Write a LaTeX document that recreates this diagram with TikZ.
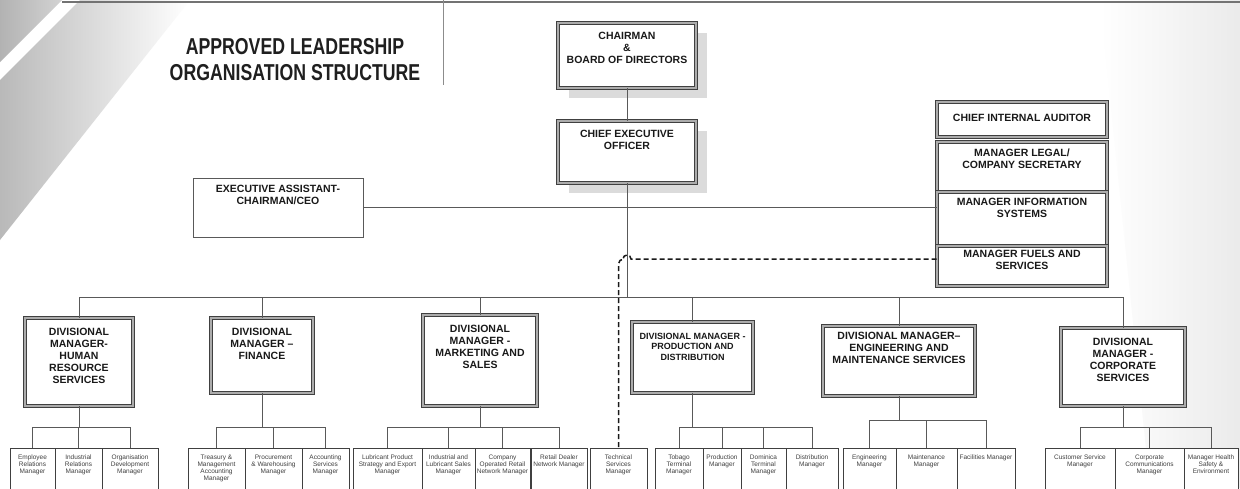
\documentclass[tikz,border=0pt]{standalone}
\usepackage{fontspec}
\setmainfont{Liberation Sans}
\newfontfamily\headfont[FakeStretch=0.77]{Liberation Sans}
\tikzset{
  link/.style={draw=black!65, line width=1pt},
  dashlink/.style={draw=black!90, line width=1.5pt, dash pattern=on 5pt off 3pt},
  bigbox/.style={draw=black!75, double=gray!65, double distance=1.6pt, line width=0.9pt, fill=white, inner sep=0pt},
  plainbox/.style={draw=black!65, line width=0.9pt, fill=white, inner sep=0pt},
  subbox/.style={draw=black!75, line width=1pt, fill=white, inner sep=0pt, minimum height=60pt, anchor=north},
  boxtext/.style={anchor=north, align=center, inner sep=0pt, text=black!90, font=\bfseries\fontsize{10.5}{12}\selectfont},
  smalltext/.style={boxtext, font=\bfseries\fontsize{9}{10.5}\selectfont},
  subtext/.style={anchor=north, align=center, inner sep=0pt, text=black!75, font=\fontsize{6.5}{7}\selectfont, yshift=-7pt},
}
\begin{document}
\begin{tikzpicture}[x=1pt, y=-1pt]
  \pgfdeclarelayer{bg}    % shadows
  \pgfdeclarelayer{bbg}   % page decoration
  \pgfsetlayers{bbg,bg,main}
  \def\busY{297}
  \def\subTop{448}
  \useasboundingbox (0,0) rectangle (1240,488);
  \clip (0,0) rectangle (1240,488);

  % page decoration
  \begin{pgfonlayer}{bbg}
    \fill[white] (0,0) rectangle (1240,488);
    \shade[left color=gray!60, right color=gray!35] (0,0) -- (62,0) -- (0,62) -- cycle;
    \shade[left color=gray!55, right color=white] (80,0) -- (190,0) -- (0,240) -- (0,80) -- cycle;
    \shade[left color=white, right color=gray!16] (1100,0) -- (1240,0) -- (1240,488) -- (1150,488) -- cycle;
    \draw[black!55, line width=1.5pt] (62,2) -- (1240,2);
    \draw[black!45, line width=1pt] (443,0) -- (443,85);
  \end{pgfonlayer}

  \node[anchor=north, align=center, inner sep=0pt, text=black!88,
        font=\headfont\bfseries\fontsize{23}{26}\selectfont] (title) at (295,38)
        {APPROVED LEADERSHIP\\ORGANISATION STRUCTURE};

  % top of the tree
  \node[bigbox, minimum width=138, minimum height=65,
        label={[boxtext,yshift=-9pt]north:{CHAIRMAN\\\&\\BOARD OF DIRECTORS}}] (chair) at (627,55.5) {};
  \node[bigbox, minimum width=138, minimum height=62,
        label={[boxtext,yshift=-9pt]north:{CHIEF EXECUTIVE\\OFFICER}}] (ceo) at (627,152) {};
  \node[plainbox, minimum width=170, minimum height=59,
        label={[boxtext,yshift=-7pt]north:{EXECUTIVE ASSISTANT-\\CHAIRMAN/CEO}}] (exec) at (278,207.5) {};

  % staff column
  \node[bigbox, minimum width=170, minimum height=35,
        label={[boxtext,yshift=-12pt]north:{CHIEF INTERNAL AUDITOR}}] (audit) at (1022,119.5) {};
  \node[bigbox, minimum width=170, minimum height=50,
        label={[boxtext,yshift=-7pt]north:{MANAGER LEGAL/\\COMPANY SECRETARY}}] (legal) at (1022,167) {};
  \node[bigbox, minimum width=170, minimum height=54,
        label={[boxtext,yshift=-6pt]north:{MANAGER INFORMATION\\SYSTEMS}}] (mis) at (1022,219) {};
  \node[bigbox, minimum width=170, minimum height=40,
        label={[boxtext,yshift=-4pt]north:{MANAGER FUELS AND\\SERVICES}}] (fuels) at (1022,266) {};

  % divisions
  \node[bigbox, minimum width=108, minimum height=88,
        label={[boxtext,yshift=-10pt]north:{DIVISIONAL\\MANAGER-\\HUMAN\\RESOURCE\\SERVICES}}] (hr) at (79,362) {};
  \node[bigbox, minimum width=102, minimum height=75,
        label={[boxtext,yshift=-10pt]north:{DIVISIONAL\\MANAGER –\\FINANCE}}] (fin) at (262,355.5) {};
  \node[bigbox, minimum width=114, minimum height=91,
        label={[boxtext,yshift=-10pt]north:{DIVISIONAL\\MANAGER -\\MARKETING AND\\SALES}}] (mkt) at (480,360.5) {};
  \node[bigbox, minimum width=121, minimum height=71,
        label={[smalltext,yshift=-11pt]north:{DIVISIONAL MANAGER -\\PRODUCTION AND\\DISTRIBUTION}}] (prd) at (692.5,357.5) {};
  \node[bigbox, minimum width=152, minimum height=70,
        label={[boxtext,yshift=-6pt]north:{DIVISIONAL MANAGER–\\ENGINEERING AND\\MAINTENANCE SERVICES}}] (eng) at (899,361) {};
  \node[bigbox, minimum width=124, minimum height=78,
        label={[boxtext,yshift=-10pt]north:{DIVISIONAL\\MANAGER -\\CORPORATE\\SERVICES}}] (cor) at (1123,367) {};

  % managers
  \foreach \n/\x/\w/\t in {
      hre/32.5/45/{Employee\\Relations\\Manager},
      hri/78.5/47/{Industrial\\Relations\\Manager},
      hro/130/56/{Organisation\\Development\\Manager},
      fint/216.5/57/{Treasury \&\\Management\\Accounting\\Manager},
      finp/273.5/57/{Procurement\\\& Warehousing\\Manager},
      fina/325.5/47/{Accounting\\Services\\Manager},
      mkl/387.5/69/{Lubricant Product\\Strategy and Export\\Manager},
      mki/448.5/53/{Industrial and\\Lubricant Sales\\Manager},
      mkc/502.5/55/{Company\\Operated Retail\\Network Manager},
      mkr/559/56/{Retail Dealer\\Network Manager},
      tech/618.5/57/{Technical\\Services\\Manager},
      pdt/679/48/{Tobago\\Terminal\\Manager},
      pdp/722/38/{Production\\Manager},
      pdd/763.5/45/{Dominica\\Terminal\\Manager},
      pdi/812/52/{Distribution\\Manager},
      ene/869.5/53/{Engineering\\Manager},
      enm/926.5/61/{Maintenance\\Manager},
      enf/986/58/{Facilities Manager},
      coc/1080/70/{Customer Service\\Manager},
      coo/1149.5/69/{Corporate\\Communications\\Manager},
      com/1211/54/{Manager Health\\Safety \&\\Environment}}
    \node[subbox, minimum width=\w, label={[subtext]north:{\t}}] (\n) at (\x,\subTop) {};

  % shadows
  \begin{pgfonlayer}{bg}
    \foreach \n in {chair,ceo}
      \fill[gray!28] ([shift={(11,10)}]\n.north west) rectangle ([shift={(11,10)}]\n.south east);
  \end{pgfonlayer}

  % connectors
  \coordinate (bus) at (627,\busY);
  \draw[link] (chair) -- (ceo);
  \draw[link] (ceo) -- (bus);
  \draw[link] (exec.east) -- (exec.east -| mis.west);
  \foreach \d in {hr,fin,mkt,prd,eng,cor}
    \draw[link] (bus) -| (\d.north);
  \foreach \d/\y/\subs in {hr/427/{hre,hri,hro}, fin/427/{fint,finp,fina},
      mkt/427/{mkl,mki,mkc,mkr}, prd/427/{pdt,pdp,pdd,pdi},
      eng/420/{ene,enm,enf}, cor/427/{coc,coo,com}}
    {
    \draw[link] (\d.south) -- (\d.south |- 0,\y) coordinate (\d bus);
    \foreach \s in \subs
      \draw[link] (\d bus) -| (\s.north);
    }
  \draw[dashlink] ([yshift=7pt]fuels.west) -- (631,259) arc (0:-180:4)
    [rounded corners=5pt] -| (tech.north);
\end{tikzpicture}
\end{document}
